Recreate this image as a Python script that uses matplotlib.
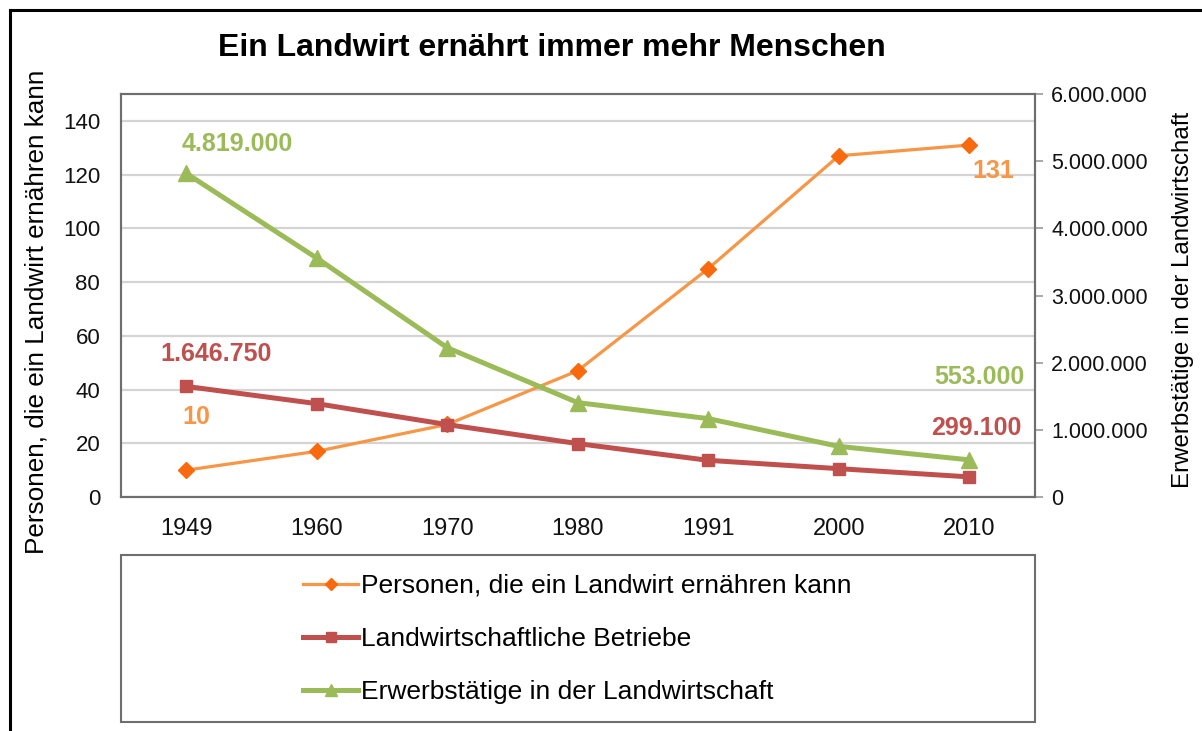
import matplotlib
matplotlib.use("Agg")
import matplotlib.pyplot as plt
from matplotlib.patches import Rectangle
from matplotlib.lines import Line2D
from matplotlib.ticker import FuncFormatter

# data
years = ["1949", "1960", "1970", "1980", "1991", "2000", "2010"]
personen = [10, 17, 27, 47, 85, 127, 131]
betriebe = [1646750, 1390000, 1078000, 795000, 546000, 422000, 299100]
erwerbstaetige = [4819000, 3557000, 2223000, 1405000, 1167000, 754000, 553000]

label_personen = "Personen, die ein Landwirt ernähren kann"
label_betriebe = "Landwirtschaftliche Betriebe"
label_erwerb = "Erwerbstätige in der Landwirtschaft"

ORANGE = "#F79646"
ORANGE_MK = "#F9690E"
RED = "#C0504D"
GREEN = "#9BBB59"
FRAME = "#6E6E6E"


def de_format(v):
    return f"{int(round(v)):,}".replace(",", ".")


def main():
    plt.rcParams["font.family"] = ["Liberation Sans", "DejaVu Sans"]

    fig = plt.figure(figsize=(12.02, 7.31), dpi=100)
    ax = fig.add_axes([121 / 1202, 1 - 497 / 731, 913.5 / 1202, 403 / 731])
    ax2 = ax.twinx()

    x = list(range(len(years)))

    ax.plot(x, personen, color=ORANGE, lw=2.3, marker="D", ms=8,
            mfc=ORANGE_MK, mec=ORANGE_MK, label=label_personen, zorder=3)
    ax2.plot(x, betriebe, color=RED, lw=3.6, marker="s", ms=9,
             mfc=RED, mec=RED, label=label_betriebe, zorder=3)
    ax2.plot(x, erwerbstaetige, color=GREEN, lw=3.6, marker="^", ms=11,
             mfc=GREEN, mec=GREEN, label=label_erwerb, zorder=3)

    # left axis
    ax.set_xlim(-0.5, len(years) - 0.5)
    ax.set_ylim(0, 150)
    ax.set_yticks(range(0, 141, 20))
    ax.set_xticks(x)
    ax.set_xticklabels(years)
    ax.tick_params(axis="both", length=0, colors="#111111")
    ax.tick_params(axis="y", pad=15, labelsize=16)
    ax.tick_params(axis="x", pad=15, labelsize=17)
    ax.yaxis.grid(True, color="#D4D4D4", lw=1.6)
    ax.set_axisbelow(True)

    # right axis
    ax2.set_ylim(0, 6000000)
    ax2.set_yticks(range(0, 6000001, 1000000))
    ax2.yaxis.set_major_formatter(FuncFormatter(lambda v, p: de_format(v)))
    ax2.tick_params(axis="y", length=6, width=1.2, color="#9A9A9A",
                    labelsize=15.5, pad=6, labelcolor="#111111")

    for a in (ax, ax2):
        for s in a.spines.values():
            s.set_color(FRAME)
            s.set_linewidth(1.5)

    # axis titles
    fig.text(37 / 1202, 1 - 312 / 731, label_personen, rotation=90,
             fontsize=18.8, ha="center", va="center")
    fig.text(1183 / 1202, 1 - 300 / 731, label_erwerb, rotation=90,
             fontsize=17.4, ha="center", va="center")

    # data labels (first and last point of each series)
    lbl = dict(fontsize=18, fontweight="bold", ha="center", va="center",
               textcoords="offset points")
    ax.annotate(de_format(personen[0]), (x[0], personen[0]), xytext=(7, 38),
                color=ORANGE, **lbl)
    ax.annotate(de_format(personen[-1]), (x[-1], personen[-1]), xytext=(17, -19),
                color=ORANGE, **lbl)
    ax2.annotate(de_format(betriebe[0]), (x[0], betriebe[0]), xytext=(21.5, 23.5),
                 color=RED, **lbl)
    ax2.annotate(de_format(betriebe[-1]), (x[-1], betriebe[-1]), xytext=(5, 35),
                 color=RED, **lbl)
    ax2.annotate(de_format(erwerbstaetige[0]), (x[0], erwerbstaetige[0]),
                 xytext=(37, 21), color=GREEN, **lbl)
    ax2.annotate(de_format(erwerbstaetige[-1]), (x[-1], erwerbstaetige[-1]),
                 xytext=(7, 59.5), color=GREEN, **lbl)

    fig.text(552 / 1202, 1 - 48 / 731, "Ein Landwirt ernährt immer mehr Menschen",
             fontsize=23, fontweight="bold", ha="center", va="center")

    # legend box
    fig.patches.append(Rectangle((121 / 1202, 9 / 731), 913.5 / 1202, 167 / 731,
                                 transform=fig.transFigure, fill=False,
                                 ec=FRAME, lw=1.5))
    handles = ax.get_lines()[:1] + ax2.get_lines()[:2]
    fig.legend(handles=handles, labels=[h.get_label() for h in handles],
               loc="center left", bbox_to_anchor=(303 / 1202, 1 - 639 / 731),
               frameon=False, fontsize=19, borderpad=0, borderaxespad=0,
               handlelength=2.1, handletextpad=0.1, labelspacing=1.1,
               markerscale=0.8)

    # outer frame (top and left visible)
    fig.add_artist(Line2D([10 / 1202, 1.0], [1 - 10 / 731] * 2,
                          transform=fig.transFigure, color="black", lw=2.2))
    fig.add_artist(Line2D([10 / 1202] * 2, [0.0, 1 - 10 / 731],
                          transform=fig.transFigure, color="black", lw=2.2))

    fig.savefig("out.png", dpi=100)


if __name__ == "__main__":
    main()
